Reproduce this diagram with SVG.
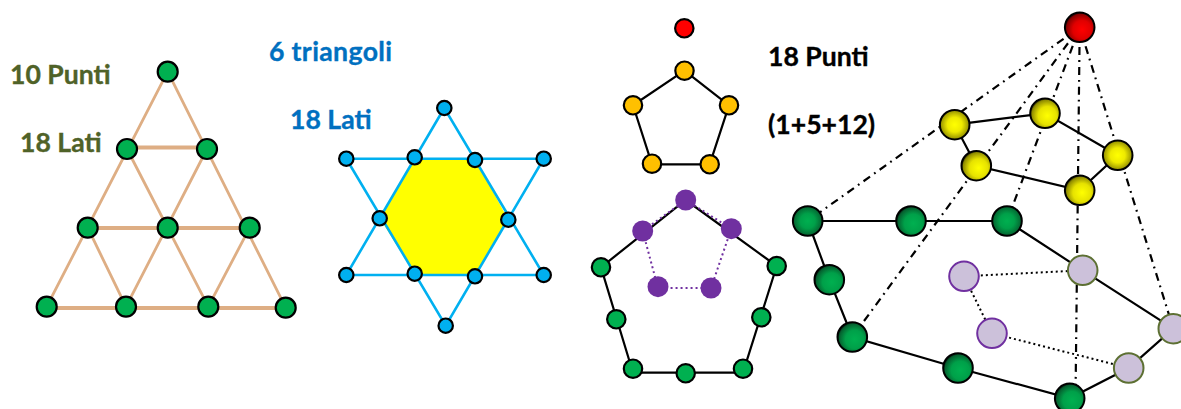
<svg xmlns="http://www.w3.org/2000/svg" width="1181" height="409" viewBox="0 0 1181 409">
<style>
text{font-family:Lato,"Open Sans",sans-serif;font-weight:700;font-size:26.6px;stroke-width:.35px}
.ol{fill:#4f6228;stroke:#4f6228}.bl{fill:#0070c0;stroke:#0070c0}.bk{fill:#000;stroke:#000}
.tan{fill:none;stroke:#deae84;stroke-width:2.8}
.tanh{fill:none;stroke:#deae84;stroke-width:3.8}
.sky{fill:none;stroke:#00b0f0;stroke-width:2.6}
.sol{fill:none;stroke:#000;stroke-width:2.2}
.dd{fill:none;stroke:#000;stroke-width:2.2;stroke-dasharray:8 5 1.8 5}
.dot{fill:none;stroke:#000;stroke-width:2;stroke-dasharray:2 3}
.pd{fill:none;stroke:#7030a0;stroke-width:2;stroke-dasharray:2 3}
.g{fill:#00b050;stroke:#000;stroke-width:2.2}
.b{fill:#00b0f0;stroke:#000;stroke-width:2.2}
.o{fill:#ffc000;stroke:#000;stroke-width:2.2}
.r{fill:#f00;stroke:#000;stroke-width:2.2}
.p{fill:#7030a0}
.gr{fill:url(#rg);stroke:#000;stroke-width:2}
.gr2{fill:url(#rg2);stroke:#000;stroke-width:2}
.ry{fill:url(#ry);stroke:#000;stroke-width:2}
.ry2{fill:url(#ry2);stroke:#000;stroke-width:2}
.rr2{fill:url(#rr2);stroke:#000;stroke-width:2}
.lo{fill:#ccc1da;stroke:#5d7033;stroke-width:2}
.lp{fill:#ccc1da;stroke:#7030a0;stroke-width:2}
</style>
<defs>
<radialGradient id="rg"><stop offset="0" stop-color="#00b050"/><stop offset=".5" stop-color="#00a049"/><stop offset="1" stop-color="#05602f"/></radialGradient>
<radialGradient id="ry"><stop offset="0" stop-color="#ff0"/><stop offset=".5" stop-color="#eeea00"/><stop offset="1" stop-color="#908c00"/></radialGradient>
<radialGradient id="rg2" cx=".58" cy=".58" r=".62"><stop offset="0" stop-color="#00b050"/><stop offset=".5" stop-color="#00a049"/><stop offset=".85" stop-color="#05602f"/><stop offset="1" stop-color="#000"/></radialGradient>
<radialGradient id="ry2" cx=".58" cy=".58" r=".62"><stop offset="0" stop-color="#ff0"/><stop offset=".5" stop-color="#e6e200"/><stop offset=".85" stop-color="#908c00"/><stop offset="1" stop-color="#000"/></radialGradient>
<radialGradient id="rr2" cx=".58" cy=".58" r=".62"><stop offset="0" stop-color="#f00"/><stop offset=".5" stop-color="#e00000"/><stop offset=".85" stop-color="#8a0000"/><stop offset="1" stop-color="#000"/></radialGradient>
</defs>

<g id="labels">
<text class="ol" x="10" y="84">10 Punti</text>
<text class="ol" x="20" y="152">18 Lati</text>
<text class="bl" x="269" y="61" textLength="123">6 triangoli</text>
<text class="bl" x="290" y="129">18 Lati</text>
<text class="bk" x="768" y="66">18 Punti</text>
<text class="bk" x="768" y="134">(1+5+12)</text>
</g>

<polygon id="hexagon" points="414.7,158 475,159 508.3,219.7 475,276 414.7,274 379.7,218" fill="#ff0"/>

<g id="connectors">
<path class="tan" d="M167.7 71.7L46.7 306.7M167.7 71.7L285.7 307.7M127 149L208.3 306.7M207 149L126 306.7M87.7 227.7L126 306.7M249.7 227.7L208.3 306.7"/>
<path class="tanh" d="M46.7 308H285.7M127 147.500H207M87.700 228H249.7"/>
<path class="sky" d="M444.3 108L346.3 275H543.7ZM346.3 158.7H543.7L445.7 325.7Z"/>
<path class="sol" d="M684.5 70.7L729 105.3 709.7 164.3H652L633 105.3Z"/>
<path class="sol" d="M601 267.3L685.7 200 776.7 266 743 372.7H633Z"/>
<path class="pd" d="M685.7 200L731.3 228.7 711 288H658L642.7 231Z"/>
<path class="dd" d="M1079.7 27.3L807.7 221M1079.7 27.3L852.3 337M1079.7 27.3L1007 221M1079.7 27.3L1075.5 398.3M1079.7 27.3L1173.3 328.7"/>
<path class="sol" d="M954.7 124.7L1045 113.3 1117.7 155.3 1079.7 190.3 976.3 165.7Z"/>
<path class="sol" d="M807.7 221H1007L1082.7 270.3 1173.3 328.7 1128.7 368 1069.7 398.3 958 368 852.3 337 829.3 279.7Z"/>
<path class="dot" d="M1082.7 270.3L964 276.3 992 333.3 1128.7 368"/>
</g>

<g id="triangle-nodes">
<circle id="t1" class="g" cx="167.7" cy="71.7" r="10"/>
<circle id="t2" class="g" cx="127" cy="149" r="10"/>
<circle id="t3" class="g" cx="207" cy="149" r="10"/>
<circle id="t4" class="g" cx="87.7" cy="227.7" r="10"/>
<circle id="t5" class="g" cx="167.7" cy="227.7" r="10"/>
<circle id="t6" class="g" cx="249.7" cy="227.7" r="10"/>
<circle id="t7" class="g" cx="46.7" cy="306.7" r="10"/>
<circle id="t8" class="g" cx="126" cy="306.7" r="10"/>
<circle id="t9" class="g" cx="208.3" cy="306.7" r="10"/>
<circle id="t10" class="g" cx="285.7" cy="307.7" r="10"/>
</g>

<g id="star-nodes">
<circle id="s1" class="b" cx="444.3" cy="108" r="7.2"/>
<circle id="s2" class="b" cx="346.3" cy="158.7" r="7.2"/>
<circle id="s3" class="b" cx="414.7" cy="157.3" r="7.2"/>
<circle id="s4" class="b" cx="475" cy="160" r="7.2"/>
<circle id="s5" class="b" cx="543.7" cy="158.7" r="7.2"/>
<circle id="s6" class="b" cx="379.7" cy="218.3" r="7.2"/>
<circle id="s7" class="b" cx="508.3" cy="219.7" r="7.2"/>
<circle id="s8" class="b" cx="346.3" cy="275" r="7.2"/>
<circle id="s9" class="b" cx="414.7" cy="273.7" r="7.2"/>
<circle id="s10" class="b" cx="475" cy="276.3" r="7.2"/>
<circle id="s11" class="b" cx="543.7" cy="275" r="7.2"/>
<circle id="s12" class="b" cx="445.7" cy="325.7" r="7.2"/>
</g>

<g id="pentagon-nodes">
<circle id="p1" class="r" cx="684.3" cy="28.3" r="9.2"/>
<circle id="p2" class="o" cx="684.5" cy="70.7" r="9.2"/>
<circle id="p3" class="o" cx="633" cy="105.3" r="9.2"/>
<circle id="p4" class="o" cx="729" cy="105.3" r="9.2"/>
<circle id="p5" class="o" cx="652" cy="163.7" r="9.2"/>
<circle id="p6" class="o" cx="709.7" cy="164.3" r="9.2"/>
<circle id="p7" class="p" cx="685.7" cy="200" r="10.5"/>
<circle id="p8" class="p" cx="642.7" cy="231" r="10.5"/>
<circle id="p9" class="p" cx="731.3" cy="228.7" r="10.5"/>
<circle id="p10" class="p" cx="658" cy="286.7" r="10.5"/>
<circle id="p11" class="p" cx="711" cy="288" r="10.5"/>
<circle id="p12" class="g" cx="601" cy="267.3" r="9.2"/>
<circle id="p13" class="g" cx="616.3" cy="319.3" r="9.2"/>
<circle id="p14" class="g" cx="633" cy="368.7" r="9.2"/>
<circle id="p15" class="g" cx="685.7" cy="373.3" r="9.2"/>
<circle id="p16" class="g" cx="743" cy="368.7" r="9.2"/>
<circle id="p17" class="g" cx="761.3" cy="317.3" r="9.2"/>
<circle id="p18" class="g" cx="776.7" cy="266" r="9.2"/>
</g>

<g id="pyramid-nodes">
<circle id="y1" class="rr2" cx="1079.7" cy="27.3" r="14.8"/>
<circle id="y2" class="ry" cx="954.7" cy="124.7" r="14.8"/>
<circle id="y3" class="ry2" cx="1045" cy="113.3" r="14.8"/>
<circle id="y4" class="ry" cx="1117.7" cy="155.3" r="14.8"/>
<circle id="y5" class="ry2" cx="976.3" cy="165.7" r="14.8"/>
<circle id="y6" class="ry2" cx="1079.7" cy="190.3" r="14.8"/>
<circle id="y7" class="gr" cx="807.7" cy="221" r="14.8"/>
<circle id="y8" class="gr2" cx="911" cy="221" r="14.8"/>
<circle id="y9" class="gr" cx="1007" cy="221" r="14.8"/>
<circle id="y10" class="gr2" cx="829.3" cy="279.7" r="14.8"/>
<circle id="y11" class="gr2" cx="852.3" cy="337" r="14.8"/>
<circle id="y12" class="gr2" cx="958" cy="368" r="14.8"/>
<circle id="y13" class="gr2" cx="1069.7" cy="398.3" r="14.8"/>
<circle id="y14" class="lo" cx="1082.7" cy="270.3" r="14.8"/>
<circle id="y15" class="lo" cx="1173.3" cy="328.7" r="14.8"/>
<circle id="y16" class="lo" cx="1128.7" cy="368" r="14.8"/>
<circle id="y17" class="lp" cx="964" cy="276.3" r="14.8"/>
<circle id="y18" class="lp" cx="992" cy="333.3" r="14.8"/>
</g>
</svg>
